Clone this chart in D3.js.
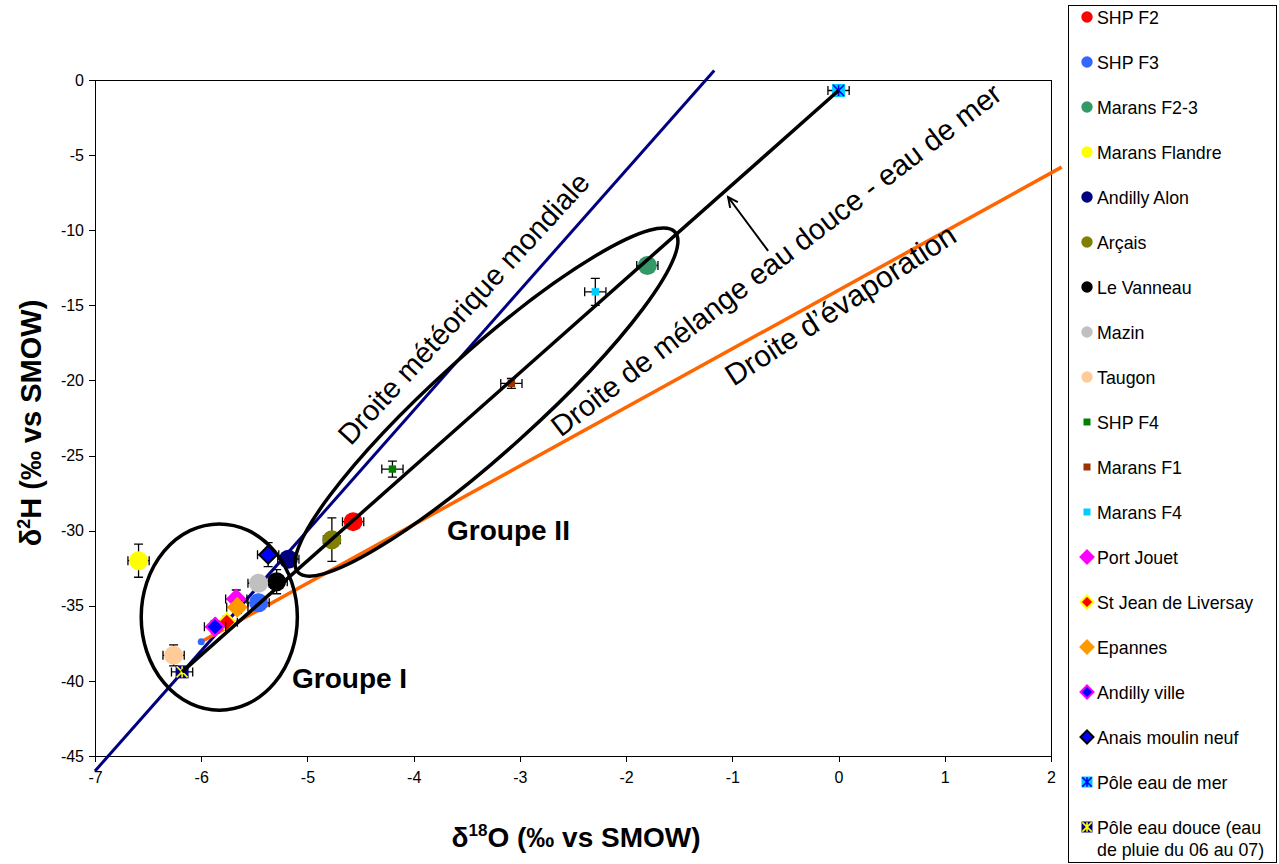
<!DOCTYPE html>
<html lang="fr">
<head>
<meta charset="UTF-8">
<title>δ2H vs δ18O</title>
<style>
    body, html { margin: 0; padding: 0; background: #fff; overflow: hidden; }
    svg { display: block; font-family: Arial, "Liberation Sans", sans-serif; }
    .axis text { font-size: 16px; fill: #000; }
    .axis line, .axis path { stroke: #000; shape-rendering: crispEdges; }
    .leg text { font-size: 17.8px; }
</style>
</head>
<body>
<svg width="1279" height="864"></svg>
<script src="https://d3js.org/d3.v7.min.js"></script>
<script>
// sample sites (same order as the legend)
const sites = ["SHP F2", "SHP F3", "Marans F2-3", "Marans Flandre", "Andilly Alon", "Arçais",
    "Le Vanneau", "Mazin", "Taugon", "SHP F4", "Marans F1", "Marans F4", "Port Jouet",
    "St Jean de Liversay", "Epannes", "Andilly ville", "Anais moulin neuf",
    "Pôle eau de mer", "Pôle eau douce (eau|de pluie du 06 au 07)"];
const d18O = [-4.57, -5.46, -1.80, -6.59, -5.18, -4.77, -5.29, -5.46, -6.26, -4.20, -3.08, -2.29,
    -5.67, -5.76, -5.66, -5.87, -5.37, 0.0, -6.18];
const d2H = [-29.4, -34.8, -12.35, -32.0, -31.9, -30.6, -33.4, -33.5, -38.3, -25.9, -20.2, -14.1,
    -34.55, -36.1, -35.1, -36.4, -31.6, -0.7, -39.4];
const errO = [0.1, 0.1, 0.1, 0.1, 0.1, 0.08, 0.1, 0.1, 0.1, 0.1, 0.1, 0.1, 0.1, 0.1, 0.1, 0.1, 0.1, 0.1, 0.1];
const errH = [0.3, 0.3, 0.3, 1.1, 0.3, 1.45, 0.8, 0.3, 0.7, 0.53, 0.33, 0.9, 0.6, 0.4, 0.4, 0.4, 0.8, 0.1, 0.1];

// reference lines
const meteoO = [-7, -1.17];
const meteoH = [-46, 0.64];
const evapO = [-6.0, 2.1];
const evapH = [-37.4, -5.8];
const mixO = [-6.18, 0.0];
const mixH = [-39.4, -0.7];

const xTicks = [-7, -6, -5, -4, -3, -2, -1, 0, 1, 2];
const yTicks = [0, -5, -10, -15, -20, -25, -30, -35, -40, -45];

// marker styles per site
const styles = [
    { shape: "circle", fill: "#FF0000" },
    { shape: "circle", fill: "#3366FF" },
    { shape: "circle", fill: "#339966" },
    { shape: "circle", fill: "#FFFF00" },
    { shape: "circle", fill: "#000080" },
    { shape: "circle", fill: "#808000" },
    { shape: "circle", fill: "#000000" },
    { shape: "circle", fill: "#C0C0C0" },
    { shape: "circle", fill: "#FFCC99" },
    { shape: "square", fill: "#008000" },
    { shape: "square", fill: "#993300" },
    { shape: "square", fill: "#00CCFF" },
    { shape: "diamond", fill: "#FF00FF", stroke: "#FF00FF" },
    { shape: "diamond", fill: "#FF0000", stroke: "#FFFF00" },
    { shape: "diamond", fill: "#FF9900", stroke: "#FF9900" },
    { shape: "diamond", fill: "#0000FF", stroke: "#FF00FF" },
    { shape: "diamond", fill: "#0000FF", stroke: "#000000" },
    { shape: "star", fill: "#00CCFF", stroke: "#0000FF" },
    { shape: "star", fill: "#000080", stroke: "#FFFF00" }
];

const svg = d3.select("svg");
const x = d3.scaleLinear().domain([-7, 2]).range([95, 1051]);
const y = d3.scaleLinear().domain([-45, 0]).range([756, 80]);

// plot frame
svg.append("rect")
    .attr("x", x(-7)).attr("y", y(0))
    .attr("width", x(2) - x(-7)).attr("height", y(-45) - y(0))
    .attr("fill", "none").attr("stroke", "#000").attr("stroke-width", 1)
    .attr("shape-rendering", "crispEdges");

svg.append("g").attr("class", "axis")
    .attr("transform", `translate(${x(-7)},0)`)
    .call(d3.axisLeft(y).tickValues(yTicks).tickSize(6).tickPadding(5).tickFormat(d => String(d)));

svg.append("g").attr("class", "axis")
    .attr("transform", `translate(0,${y(-45)})`)
    .call(d3.axisBottom(x).tickValues(xTicks).tickSize(6).tickPadding(10).tickFormat(d => String(d)));

// axis titles
const xt = svg.append("text").attr("x", 576).attr("y", 847)
    .attr("text-anchor", "middle").attr("font-weight", "bold").attr("font-size", 28);
xt.append("tspan").text("δ");
xt.append("tspan").attr("dy", -11).attr("font-size", 17).text("18");
xt.append("tspan").attr("dy", 11).text("O (‰ vs SMOW)");

const yt = svg.append("text").attr("transform", "translate(41,423) rotate(-90)")
    .attr("text-anchor", "middle").attr("font-weight", "bold").attr("font-size", 29);
yt.append("tspan").text("δ");
yt.append("tspan").attr("dy", -11).attr("font-size", 18).text("2");
yt.append("tspan").attr("dy", 11).text("H (‰ vs SMOW)");

function line(xs, ys, color, w) {
    svg.append("line")
        .attr("x1", x(xs[0])).attr("y1", y(ys[0]))
        .attr("x2", x(xs[1])).attr("y2", y(ys[1]))
        .attr("stroke", color).attr("stroke-width", w);
}

line(meteoO, meteoH, "#000080", 3);
line(evapO, evapH, "#FF6600", 3.5);
svg.append("circle").attr("cx", x(evapO[0])).attr("cy", y(evapH[0])).attr("r", 3.5).attr("fill", "#3366FF");

function markerPath(shape, s) {
    if (shape === "circle") return d3.symbol(d3.symbolCircle, Math.PI * s * s)();
    if (shape === "diamond") return `M0,${-s}L${s},0L0,${s}L${-s},0Z`;
    return `M${-s},${-s}H${s}V${s}H${-s}Z`;
}

function drawMarker(g, st, size) {
    if (st.shape === "star") {
        g.append("path").attr("d", markerPath("square", size)).attr("fill", st.fill);
        const k = size * 0.85;
        g.append("path")
            .attr("d", `M${-k},${-k}L${k},${k}M${-k},${k}L${k},${-k}M0,${-k}V${k}`)
            .attr("stroke", st.stroke).attr("stroke-width", 1.6).attr("fill", "none");
    } else {
        g.append("path").attr("d", markerPath(st.shape, size))
            .attr("fill", st.fill)
            .attr("stroke", st.stroke || "none")
            .attr("stroke-width", st.stroke ? 2 : 0);
    }
}

const sizes = { circle: 9.5, square: 3.7, diamond: 9, star: 6.5 };
const cap = 4.5;

sites.forEach((name, i) => {
    const cx = x(d18O[i]), cy = y(d2H[i]);
    const g = svg.append("g");
    const xl = x(d18O[i] - errO[i]), xr = x(d18O[i] + errO[i]);
    const yt2 = y(d2H[i] + errH[i]), yb = y(d2H[i] - errH[i]);
    g.append("path")
        .attr("d", `M${xl},${cy}H${xr}M${xl},${cy - cap}V${cy + cap}M${xr},${cy - cap}V${cy + cap}` +
            `M${cx},${yt2}V${yb}M${cx - cap},${yt2}H${cx + cap}M${cx - cap},${yb}H${cx + cap}`)
        .attr("stroke", "#000").attr("stroke-width", 1.3).attr("fill", "none");
    const m = g.append("g").attr("transform", `translate(${cx},${cy})`);
    drawMarker(m, styles[i], sizes[styles[i].shape]);
});

// mixing line on top of markers
line(mixO, mixH, "#000", 3.5);

// Groupe I ellipse
svg.append("ellipse")
    .attr("cx", x(-5.83)).attr("cy", y(-35.75))
    .attr("rx", x(-5.83) - x(-6.565)).attr("ry", y(-41.95) - y(-35.75))
    .attr("fill", "none").attr("stroke", "#000").attr("stroke-width", 3.5);

// Groupe II ellipse, defined by its two tips
const tipA = [x(-5.09), y(-32.76)], tipB = [x(-1.54), y(-10.12)];
const ang = Math.atan2(tipB[1] - tipA[1], tipB[0] - tipA[0]) * 180 / Math.PI;
const half = Math.hypot(tipB[0] - tipA[0], tipB[1] - tipA[1]) / 2;
svg.append("ellipse")
    .attr("transform", `translate(${(tipA[0] + tipB[0]) / 2},${(tipA[1] + tipB[1]) / 2}) rotate(${ang})`)
    .attr("rx", half).attr("ry", 50)
    .attr("fill", "none").attr("stroke", "#000").attr("stroke-width", 3.5);

// arrow
const a0 = [x(-0.663), y(-11.38)], a1 = [x(-1.04), y(-7.79)];
svg.append("line").attr("x1", a0[0]).attr("y1", a0[1]).attr("x2", a1[0]).attr("y2", a1[1])
    .attr("stroke", "#000").attr("stroke-width", 2);
const aa = Math.atan2(a1[1] - a0[1], a1[0] - a0[0]);
const hl = 11;
svg.append("path")
    .attr("d", `M${a1[0] - hl * Math.cos(aa - 0.45)},${a1[1] - hl * Math.sin(aa - 0.45)}L${a1[0]},${a1[1]}L${a1[0] - hl * Math.cos(aa + 0.45)},${a1[1] - hl * Math.sin(aa + 0.45)}`)
    .attr("stroke", "#000").attr("stroke-width", 2).attr("fill", "none");

// line labels
function rotLabel(txt, dx, dy, rot, size) {
    svg.append("text")
        .attr("transform", `translate(${x(dx)},${y(dy)}) rotate(${rot})`)
        .attr("text-anchor", "middle").attr("font-size", size).text(txt);
}
rotLabel("Droite météorique mondiale", -3.46, -15.65, -47.5, 29);
rotLabel("Droite de mélange eau douce - eau de mer", -0.53, -12.5, -37.5, 29.3);
rotLabel("Droite d’évaporation", 0.07, -15.55, -33, 30);

svg.append("text").attr("x", x(-3.686)).attr("y", y(-30.63))
    .attr("font-size", 28).attr("font-weight", "bold").text("Groupe II");
svg.append("text").attr("x", x(-5.145)).attr("y", y(-40.48))
    .attr("font-size", 28).attr("font-weight", "bold").text("Groupe I");

// legend
svg.append("rect").attr("x", 1068).attr("y", 5).attr("width", 208).attr("height", 857)
    .attr("fill", "none").attr("stroke", "#000").attr("stroke-width", 1)
    .attr("shape-rendering", "crispEdges");

const legSizes = { circle: 5.7, square: 3.5, diamond: 6.5, star: 5.5 };
const leg = svg.append("g").attr("class", "leg");
sites.forEach((name, i) => {
    const cy = 17 + i * 45;
    const m = leg.append("g").attr("transform", `translate(1087,${cy})`);
    drawMarker(m, styles[i], legSizes[styles[i].shape]);
    const t = leg.append("text").attr("x", 1097).attr("y", cy + 6.5);
    name.split("|").forEach((part, k) => {
        t.append("tspan").attr("x", 1097).attr("dy", k ? 22 : 0).text(part);
    });
});
</script>
</body>
</html>
